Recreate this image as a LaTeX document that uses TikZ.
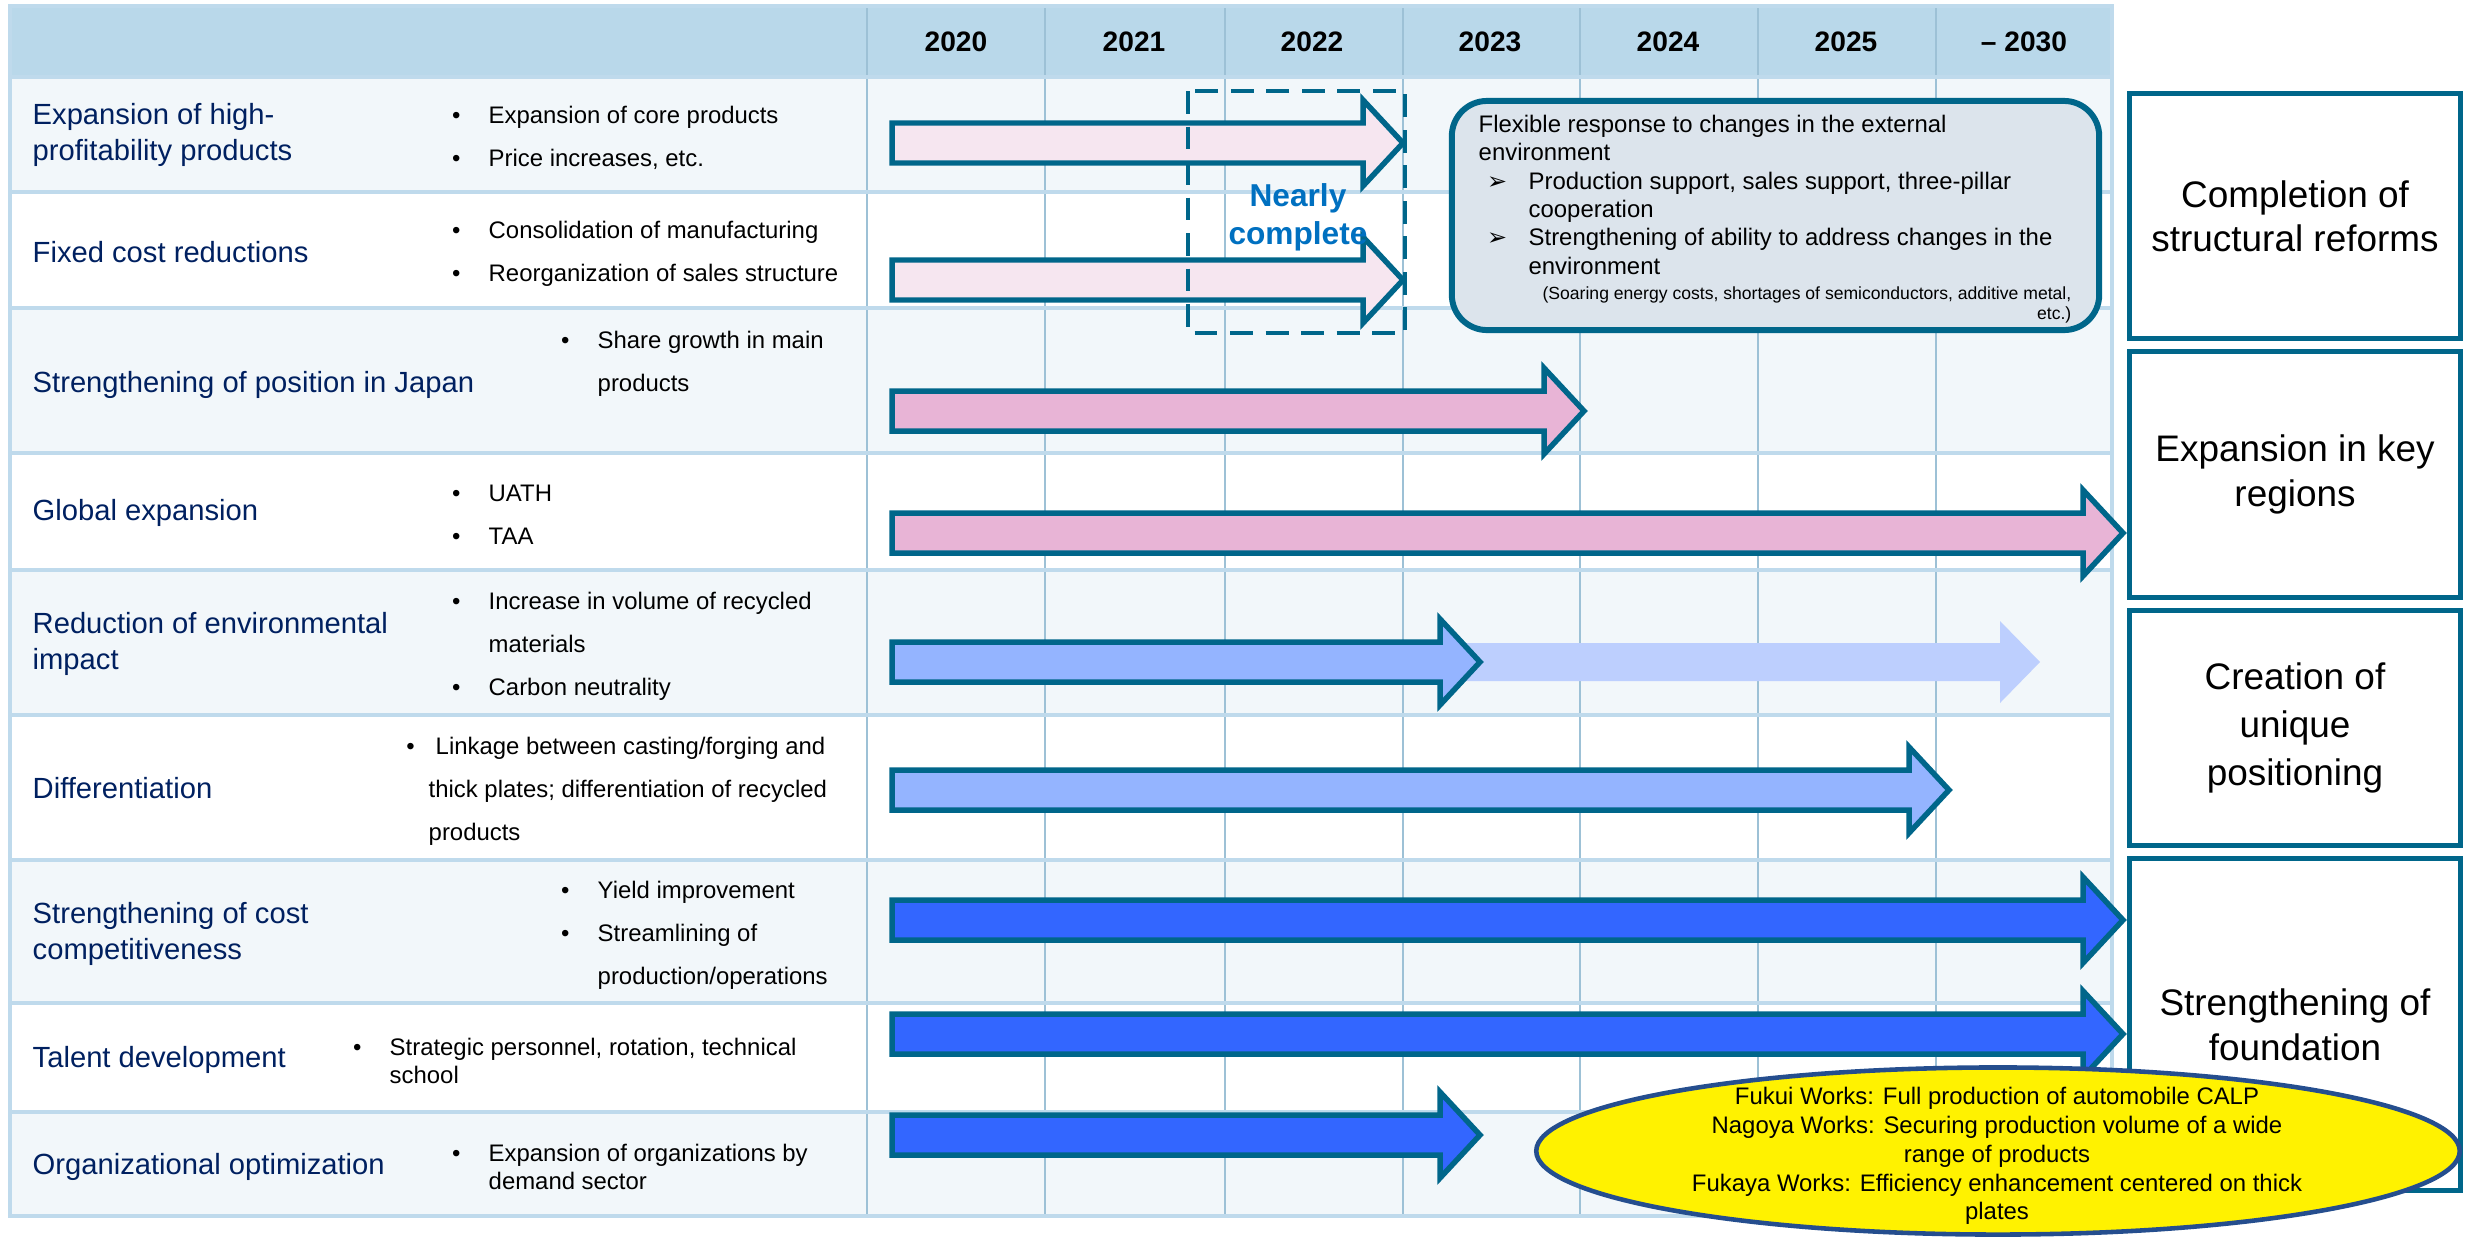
\documentclass[tikz,border=0pt]{standalone}
\usepackage{fontspec}
\setmainfont{Liberation Sans}
\newfontfamily\dingfont{DejaVu Sans}
\usepackage{xcolor}
\definecolor{hdrblue}{HTML}{B9D8EA}
\definecolor{rowtint}{HTML}{F2F7FA}
\definecolor{gridlt}{HTML}{BFDAEC}
\definecolor{griddk}{HTML}{9DC1D6}
\definecolor{edgeteal}{HTML}{00668A}
\definecolor{pinklt}{HTML}{F6E6F0}
\definecolor{pinkmd}{HTML}{E8B4D6}
\definecolor{bluelt}{HTML}{94B4FF}
\definecolor{bluefade}{HTML}{BDCFFE}
\definecolor{bluedk}{HTML}{3366FF}
\definecolor{navy}{HTML}{002060}
\definecolor{nearblue}{HTML}{0070C0}
\definecolor{callfill}{HTML}{DCE4EC}
\definecolor{ovaledge}{HTML}{254E8E}
\usetikzlibrary{positioning,shapes.geometric}
\tikzset{
  rowlbl/.style={anchor=west, align=left, inner sep=0pt, text=navy,
                 font=\fontsize{8.3}{10}\selectfont},
  bul/.style={anchor=west, align=left, inner sep=0pt,
              font=\fontsize{6.8}{12.2}\selectfont},
  bultight/.style={bul, font=\fontsize{6.8}{7.8}\selectfont},
  yr/.style={font=\bfseries\fontsize{8}{9}\selectfont},
  gridh/.style={draw=gridlt, line width=1.4pt},
  gridv/.style={draw=griddk, line width=0.8pt},
  blk/.style={draw=edgeteal, line width=1.56pt, line join=miter},
  goal/.style={draw=edgeteal, line width=1.4pt, fill=white, align=center,
               minimum width=3.31cm, font=\fontsize{10.5}{12.6}\selectfont},
  callout/.style={draw=edgeteal, line width=1.7pt, fill=callfill,
                  rounded corners=10pt, minimum width=6.47cm, minimum height=2.29cm},
  works/.style={ellipse, draw=ovaledge, line width=1.3pt, fill=yellow,
                minimum width=9.23cm, minimum height=1.67cm},
}
\newcommand{\bl}{\llap{\textbullet\hspace{8pt}}}
\newcommand{\cbul}{\makebox[14.2pt][l]{\hspace{2.4pt}{\dingfont\fontsize{6.8}{7}\selectfont ➢}}}

\begin{document}
\begin{tikzpicture}[x=0.01cm, y=-0.01cm]
  \useasboundingbox (0,0) rectangle (2478,1239);

  % table: header, tinted rows, rules
  \fill[hdrblue] (10,6) rectangle (2112,77);
  \foreach \ya/\yb in {77/192, 308/453, 570/715, 860/1003, 1112/1216}
    \fill[rowtint] (10,\ya) rectangle (2112,\yb);
  \foreach \xx in {867,1045,1225,1403,1580,1758,1936}
    \draw[gridv] (\xx,6) -- (\xx,1216);
  \foreach \yy in {77,192,308,453,570,715,860,1003,1112}
    \draw[gridh] (10,\yy) -- (2112,\yy);
  \draw[gridh] (10,6) rectangle (2112,1216);

  % years
  \foreach \yrtxt [count=\i from 0] in {2020,2021,2022,2023,2024,2025,{– 2030}}
    \node[yr] (yr\i) at ({956+178*\i},42) {\yrtxt};

  % measures
  \node[rowlbl] (l1) at (32,135) {Expansion of high-\\profitability products};
  \node[rowlbl] (l2) at (32,252) {Fixed cost reductions};
  \node[rowlbl] (l3) at (32,385) {Strengthening of position in Japan};
  \node[rowlbl] (l4) at (32,513) {Global expansion};
  \node[rowlbl] (l5) at (32,644) {Reduction of environmental\\impact};
  \node[rowlbl] (l6) at (32,788) {Differentiation};
  \node[rowlbl] (l7) at (32,934) {Strengthening of cost\\competitiveness};
  \node[rowlbl] (l8) at (32,1060) {Talent development};
  \node[rowlbl] (l9) at (32,1167) {Organizational optimization};

  \node[bul] (b1) at (488,138) {\bl Expansion of core products\\\bl Price increases, etc.};
  \node[bul] (b2) at (488,254) {\bl Consolidation of manufacturing\\\bl Reorganization of sales structure};
  \node[bul] (b3) at (597,364) {\bl Share growth in main\\products};
  \node[bul] (b4) at (488,515) {\bl UATH\\\bl TAA};
  \node[bul] (b5) at (488,646) {\bl Increase in volume of recycled\\materials\\\bl Carbon neutrality};
  \node[bul] (b6) at (428,791) {\llap{\textbullet\hspace{4pt}}\hspace{2pt}Linkage between casting/forging and\\thick plates; differentiation of recycled\\products};
  \node[bul] (b7) at (597,935) {\bl Yield improvement\\\bl Streamlining of\\production/operations};
  \node[bultight] (b8) at (389,1061) {\bl Strategic personnel, rotation, technical\\school};
  \node[bultight] (b9) at (488,1167) {\bl Expansion of organizations by\\demand sector};

  % schedule arrows
  \fill[bluefade] (1420,643) -- (2000,643) -- (2000,621) -- (2040,662)
    -- (2000,703) -- (2000,681) -- (1420,681) -- cycle;
  \foreach \fc/\xb/\yc in {pinklt/1407/143, pinklt/1407/280, pinkmd/1588/411,
      pinkmd/2127/533, bluelt/1484/662, bluelt/1953/790, bluedk/2127/920,
      bluedk/2127/1034, bluedk/1484/1135}
    \draw[blk, fill=\fc] (892,\yc-20) -- (\xb-44,\yc-20) -- (\xb-44,\yc-43)
      -- (\xb-4,\yc) -- (\xb-44,\yc+43) -- (\xb-44,\yc+20) -- (892,\yc+20) -- cycle;

  \draw[edgeteal, line width=1.2pt, dash pattern=on 6.5pt off 3.6pt]
    (1188,91) rectangle (1405,333);
  \node[font=\bfseries\fontsize{9}{10.8}\selectfont, text=nearblue, align=center]
    (nc) at (1298,217) {Nearly\\complete};

  % external environment
  \node[callout] (ext) at (1775.5,215.5) {};
  \node[anchor=north west, align=left, inner sep=0pt,
        font=\fontsize{6.8}{8.1}\selectfont] (exttxt) at (1478,114)
    {Flexible response to changes in the external\\
     environment\\
     \cbul Production support, sales support, three-pillar\\
     \hspace*{14.2pt}cooperation\\
     \cbul Strengthening of ability to address changes in the\\
     \hspace*{14.2pt}environment};
  \node[anchor=north east, align=right, inner sep=0pt,
        font=\fontsize{5}{5.7}\selectfont] (extnote) at (2072,286)
    {(Soaring energy costs, shortages of semiconductors, additive metal,\\etc.)};

  % goals
  \node[goal, minimum height=2.45cm] (g1) at (2295,216) {Completion of\\structural reforms};
  \node[goal, minimum height=2.46cm, below=0.08cm of g1] (g2) {Expansion in key\\regions};
  \node[goal, minimum height=2.35cm, below=0.08cm of g2,
        font=\fontsize{10.5}{13.6}\selectfont] (g3) {Creation of\\unique\\positioning};
  \node[goal, minimum height=3.32cm, below=0.08cm of g3] (g4) {Strengthening of\\foundation};

  % works
  \node[works] (wk) at (1998,1151) {};
  \node[align=center, font=\fontsize{6.8}{8.2}\selectfont] (wktxt) at (1997,1156)
    {Fukui Works: Full production of automobile CALP\\
     Nagoya Works: Securing production volume of a wide\\
     range of products\\
     Fukaya Works: Efficiency enhancement centered on thick\\
     plates};
\end{tikzpicture}
\end{document}
